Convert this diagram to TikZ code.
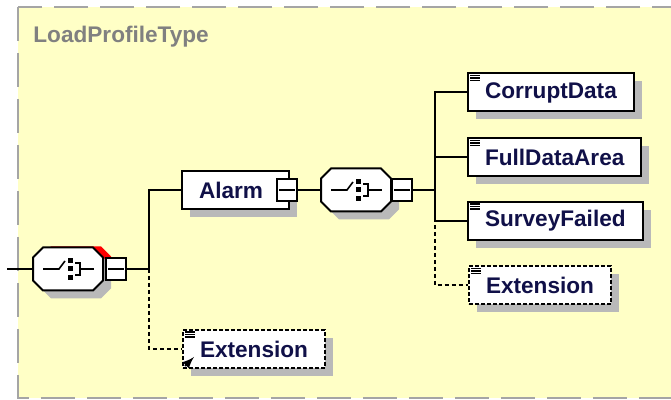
\documentclass[tikz,border=0pt]{standalone}
\usepackage{fontspec}
\setmainfont{Liberation Sans}
\usetikzlibrary{shadows}

\definecolor{schemabg}{RGB}{255,255,198}
\definecolor{schemaborder}{RGB}{165,165,165}
\definecolor{shadowgray}{RGB}{185,185,185}
\definecolor{elemtext}{RGB}{16,16,72}
\definecolor{titlegray}{RGB}{128,128,128}

\begin{document}
\begin{tikzpicture}[%
      x=0.5pt, y=-0.5pt,
      conn/.style={line width=1pt},
      optconn/.style={line width=1pt, dash pattern=on 2pt off 1.5pt},
      boxshadow/.style={drop shadow={shadow xshift=4pt, shadow yshift=-4pt, fill=shadowgray, opacity=1}},
      elem/.style={draw, fill=white, line width=1pt, boxshadow, anchor=west,
        minimum height=19pt, inner xsep=8.5pt, inner ysep=0pt,
        font=\bfseries\fontsize{11.3}{13}\selectfont, text=elemtext},
      optelem/.style={elem, dash pattern=on 2pt off 1pt},
      seqbox/.style={minimum width=35pt, minimum height=21.5pt, inner sep=0pt},
      minusbox/.style={draw, fill=white, line width=0.8pt, minimum width=10pt,
        minimum height=11pt, inner sep=0pt},
      ]
      \useasboundingbox (0,0) rectangle (671,400);
      \clip (0,0) rectangle (671,400);
      \draw [fill=schemabg, draw=schemaborder, line width=1.3pt, dash pattern=on 17pt off 6pt] (18,7) rectangle (720,398);
      \node [anchor=base west, inner sep=0pt, text=titlegray, font=\bfseries\fontsize{11.3}{13}\selectfont] (title) at (33,43) {LoadProfileType};

      % root sequence
      \coordinate (entry) at (7,269);
      \coordinate (forkRoot) at (149,269);
      \node [seqbox] (seqRoot) at (68,269) {};
      \node [elem] (alarm) at (181,190) {Alarm\hspace*{4.5pt}};
      \node [optelem] (extRoot) at (182,349) {Extension};

      % alarm sequence
      \coordinate (forkAlarm) at (435,190);
      \node [seqbox] (seqAlarm) at (356,190) {};
      \node [elem] (corrupt) at (467,92.5) {CorruptData};
      \node [elem] (full) at (467,157.5) {FullDataArea};
      \node [elem] (survey) at (467,221) {SurveyFailed};
      \node [optelem] (extAlarm) at (468,285.5) {Extension};

      \fill [red] (41,256.5) -- (51,246.5) -- (101,246.5) -- (111,256.5) -- (111,279.5) -- (101,289.5) -- (51,289.5) -- (41,279.5) -- cycle;
      \foreach \s in {seqRoot, seqAlarm} {
        \begin{scope}[shift={(\s)}]
          \filldraw [fill=white, line width=1pt, boxshadow] (-35,-11.5) -- (-25,-21.5) -- (25,-21.5) -- (35,-11.5)
            -- (35,11.5) -- (25,21.5) -- (-25,21.5) -- (-35,11.5) -- cycle;
          \draw [line width=0.8pt] (-25,0) -- (-9,0) -- (-3,-8);
          \foreach \q in {-8.5,0,8.5}
            \fill (-0.5,{\q-2.5}) rectangle ++(5,5);
          \draw [line width=0.8pt] (7,-6) -- (12,-6) -- (12,6) -- (7,6) (12,0) -- (26,0);
        \end{scope}
      }

      \node [minusbox] (minRoot) at (116,269) {};
      \node [minusbox] (minAlarm) at (287,190) {};
      \node [minusbox] (minSeq) at (402,190) {};

      \draw [conn] (entry) -- (seqRoot.west);
      \draw [optconn] (forkRoot) |- (extRoot.west);
      \draw [conn] (minRoot.east) -- (forkRoot) |- (alarm.west);
      \draw [conn] (minAlarm.east) -- (seqAlarm.west);
      \draw [optconn] (forkAlarm) |- (extAlarm.west);
      \draw [conn] (minSeq.east) -- (forkAlarm) |- (corrupt.west);
      \draw [conn] (forkAlarm) |- (full.west);
      \draw [conn] (forkAlarm) |- (survey.west);

      \foreach \m in {minRoot, minAlarm, minSeq}
        \draw [line width=0.8pt] ([xshift=1.5pt]\m.west) -- ([xshift=-1.5pt]\m.east);

      \foreach \e in {corrupt, full, survey, extAlarm, extRoot}
        \foreach \k in {3,5.5,8}
          \draw [line width=0.6pt] ([shift={(3,\k)}]\e.north west) -- ++(10,0);
      \draw [line width=1pt, -latex] ([shift={(3,-3)}]extRoot.south west) -- ++(9,-9);
\end{tikzpicture}
\end{document}
